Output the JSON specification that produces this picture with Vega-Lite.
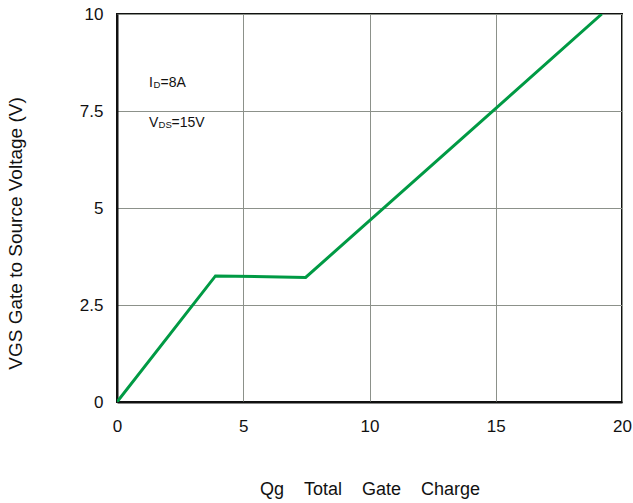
{
  "$schema": "https://vega.github.io/schema/vega-lite/v6.json",
  "width": 505,
  "height": 388,
  "autosize": {"type": "none"},
  "padding": {"left": 117, "top": 14, "right": 11, "bottom": 101},
  "background": "white",
  "config": {
    "font": "Liberation Sans",
    "view": {"stroke": "#111111", "strokeWidth": 2},
    "text": {"font": "Liberation Sans", "color": "#111111", "align": "left", "baseline": "alphabetic"},
    "axis": {
      "labelFont": "Liberation Sans",
      "titleFont": "Liberation Sans",
      "labelColor": "#111111",
      "titleColor": "#111111",
      "labelFontSize": 17,
      "titleFontWeight": "normal",
      "labelFlush": false,
      "ticks": false,
      "tickSize": 0,
      "domainColor": "#111111",
      "domainWidth": 2,
      "gridColor": "#8c918a",
      "gridWidth": 1,
      "gridOpacity": 1,
      "labelExpr": "'' + datum.value"
    }
  },
  "layer": [
    {
      "data": {
        "values": [
          {"qg": 0, "vgs": 0},
          {"qg": 3.9, "vgs": 3.25},
          {"qg": 7.47, "vgs": 3.21},
          {"qg": 19.2, "vgs": 10}
        ]
      },
      "mark": {"type": "line", "color": "#009a44", "strokeWidth": 3, "clip": true},
      "encoding": {
        "x": {
          "field": "qg",
          "type": "quantitative",
          "scale": {"domain": [0, 20], "nice": false},
          "axis": {
            "values": [0, 5, 10, 15, 20],
            "labelPadding": 16,
            "title": "Qg\u00a0\u00a0\u00a0\u00a0Total\u00a0\u00a0\u00a0\u00a0Gate\u00a0\u00a0\u00a0\u00a0Charge",
            "titleFontSize": 18,
            "titlePadding": 46
          }
        },
        "y": {
          "field": "vgs",
          "type": "quantitative",
          "scale": {"domain": [0, 10], "nice": false},
          "axis": {
            "values": [0, 2.5, 5, 7.5, 10],
            "labelPadding": 14,
            "title": "VGS Gate to Source Voltage (V)",
            "titleFontSize": 19,
            "titlePadding": 54,
            "titleY": 219
          }
        }
      }
    },
    {
      "data": {"values": [{"qg": 1.27, "vgs": 8.12, "t": "I"}]},
      "mark": {"type": "text", "fontSize": 14},
      "encoding": {
        "x": {"field": "qg", "type": "quantitative"},
        "y": {"field": "vgs", "type": "quantitative"},
        "text": {"field": "t"}
      }
    },
    {
      "data": {"values": [{"qg": 1.27, "vgs": 8.12, "t": "D"}]},
      "mark": {"type": "text", "fontSize": 9.5, "dx": 4.5, "dy": 1.5},
      "encoding": {
        "x": {"field": "qg", "type": "quantitative"},
        "y": {"field": "vgs", "type": "quantitative"},
        "text": {"field": "t"}
      }
    },
    {
      "data": {"values": [{"qg": 1.27, "vgs": 8.12, "t": "=8A"}]},
      "mark": {"type": "text", "fontSize": 14, "dx": 11.5},
      "encoding": {
        "x": {"field": "qg", "type": "quantitative"},
        "y": {"field": "vgs", "type": "quantitative"},
        "text": {"field": "t"}
      }
    },
    {
      "data": {"values": [{"qg": 1.27, "vgs": 7.1, "t": "V"}]},
      "mark": {"type": "text", "fontSize": 14},
      "encoding": {
        "x": {"field": "qg", "type": "quantitative"},
        "y": {"field": "vgs", "type": "quantitative"},
        "text": {"field": "t"}
      }
    },
    {
      "data": {"values": [{"qg": 1.27, "vgs": 7.1, "t": "DS"}]},
      "mark": {"type": "text", "fontSize": 9.5, "dx": 9.5, "dy": 1.5},
      "encoding": {
        "x": {"field": "qg", "type": "quantitative"},
        "y": {"field": "vgs", "type": "quantitative"},
        "text": {"field": "t"}
      }
    },
    {
      "data": {"values": [{"qg": 1.27, "vgs": 7.1, "t": "=15V"}]},
      "mark": {"type": "text", "fontSize": 14, "dx": 22.5},
      "encoding": {
        "x": {"field": "qg", "type": "quantitative"},
        "y": {"field": "vgs", "type": "quantitative"},
        "text": {"field": "t"}
      }
    }
  ]
}
